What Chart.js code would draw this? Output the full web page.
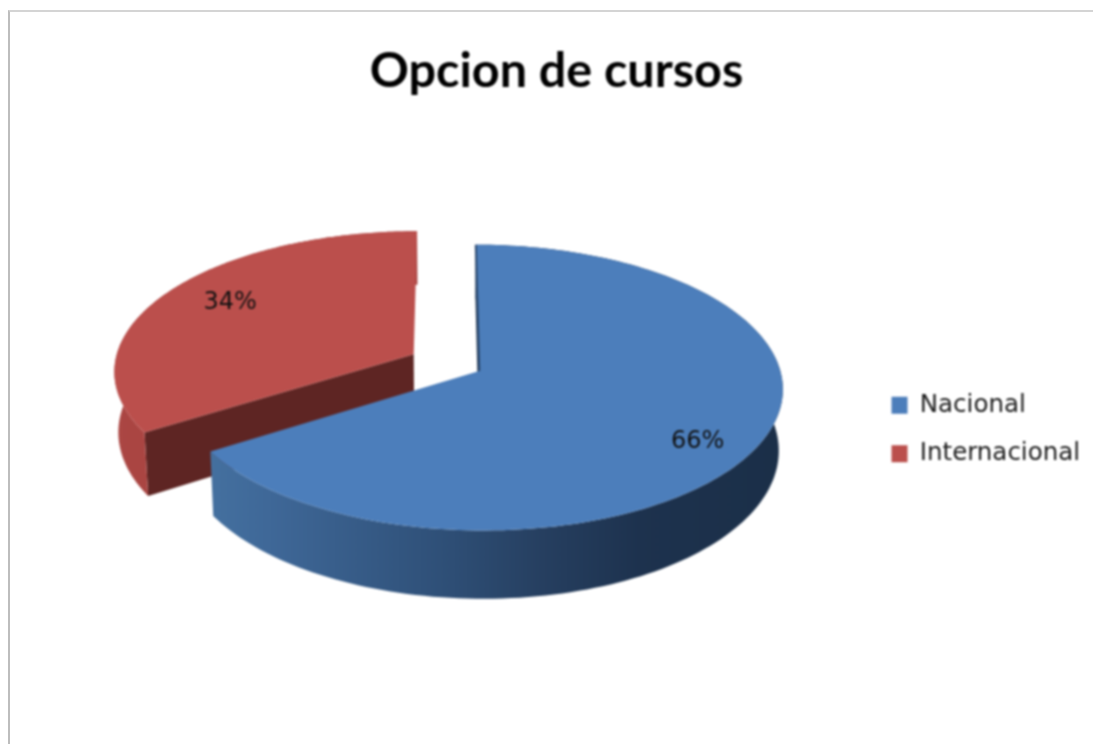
<!DOCTYPE html>
<html>
<head>
<meta charset="utf-8">
<script src="https://cdn.jsdelivr.net/npm/chart.js@4"></script>
<style>
html,body{margin:0;padding:0;background:#fff;overflow:hidden;width:1093px;height:744px}
#frame{position:absolute;left:8px;top:10px;width:1093px;height:742px;overflow:hidden;border-left:2px solid #bdbdbd;border-top:2px solid #d4d4d4}
canvas{display:block;filter:blur(0.8px)}
</style>
</head>
<body>
<div id="frame"><canvas id="c" width="1093" height="805"></canvas></div>
<script>
const chartTitle = "Opcion de cursos";
const categories = ["Nacional", "Internacional"];
const seriesValues = [66, 34];
const topColors = ["#4c7ebb", "#bb4f4c"];
const faceColors = ["#1f3550", "#5e2523"];
const labelReach = [0.83, 0.76];
const labelTurn = [0.11, 0.04];
const sliceOffset = 35;

// Viewing parameters of the tilted pie
const VIEW = {shiftX: 1, shiftY: -106, a: 299, b: 139, p: 0.115, depth: 60, shrink: 0.988};

function wallPaint(ctx, i, left, right) {
  const g = ctx.createLinearGradient(left, 0, right, 0);
  if (i === 0) {
    g.addColorStop(0, "#44709f");
    g.addColorStop(0.1, "#3f6898");
    g.addColorStop(0.4, "#2f5078");
    g.addColorStop(0.58, "#263f60");
    g.addColorStop(0.75, "#1d324e");
    g.addColorStop(1, "#1b2f48");
  } else {
    g.addColorStop(0, "#ab4643");
    g.addColorStop(1, "#a33f3d");
  }
  return g;
}

const pie3d = {
  id: "pie3d",
  beforeDatasetDraw(chart) {
    const ctx = chart.ctx;
    const arcs = chart.getDatasetMeta(0).data;
    const first = arcs[0];
    const ex = first.x, ey = first.y, Re = first.outerRadius;
    const cx = ex + VIEW.shiftX, cy = ey + VIEW.shiftY;
    const proj = (px, py, low) => {
      const u = (px - ex) / Re, v = (py - ey) / Re;
      const w = 1 - VIEW.p * v;
      let X = VIEW.a * u / w, Y = VIEW.b * v / w;
      if (low) { X *= VIEW.shrink; Y += VIEW.depth / w; }
      return [cx + X, cy + Y];
    };
    const path = pts => {
      ctx.beginPath();
      pts.forEach((q, k) => k ? ctx.lineTo(q[0], q[1]) : ctx.moveTo(q[0], q[1]));
      ctx.closePath();
    };
    const idx = arcs.map((_, i) => i).reverse();
    idx.forEach(i => {
      const el = arcs[i];
      const s = el.startAngle, e = el.endAngle, mid = (s + e) / 2;
      const off = el.options.offset;
      const ox = ex + Math.cos(mid) * off, oy = ey + Math.sin(mid) * off;
      const rim = [];
      const n = 160;
      for (let k = 0; k <= n; k++) {
        const t = s + (e - s) * k / n;
        rim.push([ox + Re * Math.cos(t), oy + Re * Math.sin(t)]);
      }
      const up = rim.map(q => proj(q[0], q[1], false));
      const down = rim.map(q => proj(q[0], q[1], true)).reverse();
      const apexUp = proj(ox, oy, false), apexDown = proj(ox, oy, true);
      const xs = up.map(q => q[0]);
      const left = Math.min(...xs), right = Math.max(...xs);
      // cut face
      ctx.fillStyle = faceColors[i];
      path([apexUp, up[0], proj(rim[0][0], rim[0][1], true), apexDown]); ctx.fill();
      // outer wall
      ctx.fillStyle = wallPaint(ctx, i, left, right);
      path(up.concat(down)); ctx.fill();
      // top surface
      ctx.fillStyle = topColors[i];
      path([apexUp].concat(up)); ctx.fill();
      if (i === 0) {
        ctx.strokeStyle = "#2c4a70"; ctx.lineWidth = 2;
        ctx.beginPath(); ctx.moveTo(apexUp[0], apexUp[1]); ctx.lineTo(up[0][0], up[0][1]); ctx.stroke();
      }
      const r = Re * labelReach[i], la = mid + labelTurn[i];
      el.$label = proj(ox + r * Math.cos(la), oy + r * Math.sin(la), false);
    });
    return false;
  },
  afterDatasetsDraw(chart) {
    const ctx = chart.ctx;
    const arcs = chart.getDatasetMeta(0).data;
    const total = seriesValues.reduce((a, b) => a + b, 0);
    ctx.save();
    ctx.font = "24px 'DejaVu Sans'";
    ctx.fillStyle = "#111";
    ctx.textAlign = "center";
    ctx.textBaseline = "middle";
    arcs.forEach((el, i) => {
      if (!el.$label) return;
      ctx.fillText(Math.round(seriesValues[i] / total * 100) + "%", el.$label[0], el.$label[1]);
    });
    ctx.restore();
  }
};

new Chart(document.getElementById("c"), {
  type: "pie",
  data: {
    labels: categories,
    datasets: [{data: seriesValues, backgroundColor: topColors, borderWidth: 0, offset: sliceOffset, radius: 280}]
  },
  options: {
    responsive: false,
    animation: false,
    layout: {padding: {left: 13, right: 13, bottom: 0, top: 30}},
    plugins: {
      title: {display: true, text: chartTitle, color: "#000", font: {family: "Lato", size: 48.5, weight: "bold"}, padding: {top: 0, bottom: 20}},
      legend: {
        position: "right",
        labels: {font: {family: "'DejaVu Sans'", size: 24.5}, color: "#1a1a1a", boxWidth: 16, boxHeight: 17, padding: 24}
      },
      tooltip: {enabled: false}
    }
  },
  plugins: [pie3d]
});
</script>
</body>
</html>
